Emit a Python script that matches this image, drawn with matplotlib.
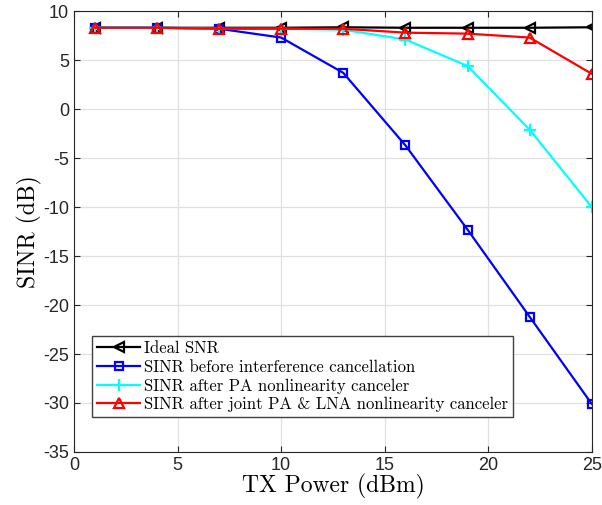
import numpy as np
import matplotlib.pyplot as plt

# data
tx_power = [1, 4, 7, 10, 13, 16, 19, 22, 25]
ideal_snr = [8.3, 8.3, 8.3, 8.3, 8.35, 8.3, 8.3, 8.3, 8.35]
sinr_before = [8.3, 8.3, 8.2, 7.3, 3.7, -3.7, -12.3, -21.2, -30.1]
sinr_pa = [8.3, 8.3, 8.2, 8.2, 8.1, 7.1, 4.4, -2.1, -10.0]
sinr_joint = [8.3, 8.3, 8.2, 8.2, 8.2, 7.8, 7.7, 7.3, 3.6]

labels = ["Ideal SNR",
          "SINR before interference cancellation",
          "SINR after PA nonlinearity canceler",
          "SINR after joint PA & LNA nonlinearity canceler"]

plt.rcParams['axes.unicode_minus'] = False
plt.rcParams['font.family'] = 'Liberation Sans'

fig = plt.figure(figsize=(6.02, 5.05), dpi=100)
ax = fig.add_axes([0.123, 0.105, 0.860, 0.873])

ax.plot(tx_power, ideal_snr, '<-', color='black', lw=1.6, ms=7.5, mfc='none', mew=1.6, label=labels[0])
ax.plot(tx_power, sinr_before, 's-', color='blue', lw=1.6, ms=6, mfc='none', mew=1.6, label=labels[1])
ax.plot(tx_power, sinr_pa, '+-', color='cyan', lw=1.6, ms=9, mew=1.6, label=labels[2])
ax.plot(tx_power, sinr_joint, '^-', color='red', lw=1.6, ms=7.5, mfc='none', mew=1.6, label=labels[3])

ax.set_xlim(0, 25)
ax.set_ylim(-35, 10)
ax.set_xticks(np.arange(0, 26, 5))
ax.set_yticks(np.arange(-35, 11, 5))
ax.tick_params(direction='in', top=True, right=True, labelsize=13, colors='0.15', length=4)
for s in ax.spines.values():
    s.set_color('0.15')
ax.grid(True, color='0.88', lw=0.9)
ax.set_axisbelow(True)

ax.set_xlabel("TX Power (dBm)", fontsize=17, fontfamily='cmr10', labelpad=0)
ax.set_ylabel("SINR (dB)", fontsize=17, fontfamily='cmr10', labelpad=1)

leg = ax.legend(loc='lower left', bbox_to_anchor=(0.035, 0.079), prop={'family': 'cmr10', 'size': 12},
                fancybox=False, edgecolor='0.25', framealpha=1, handlelength=2.6,
                handletextpad=0.2, borderpad=0.3, labelspacing=0.2, borderaxespad=0)
leg.get_frame().set_linewidth(1.0)

fig.savefig("out.png", dpi=100)
